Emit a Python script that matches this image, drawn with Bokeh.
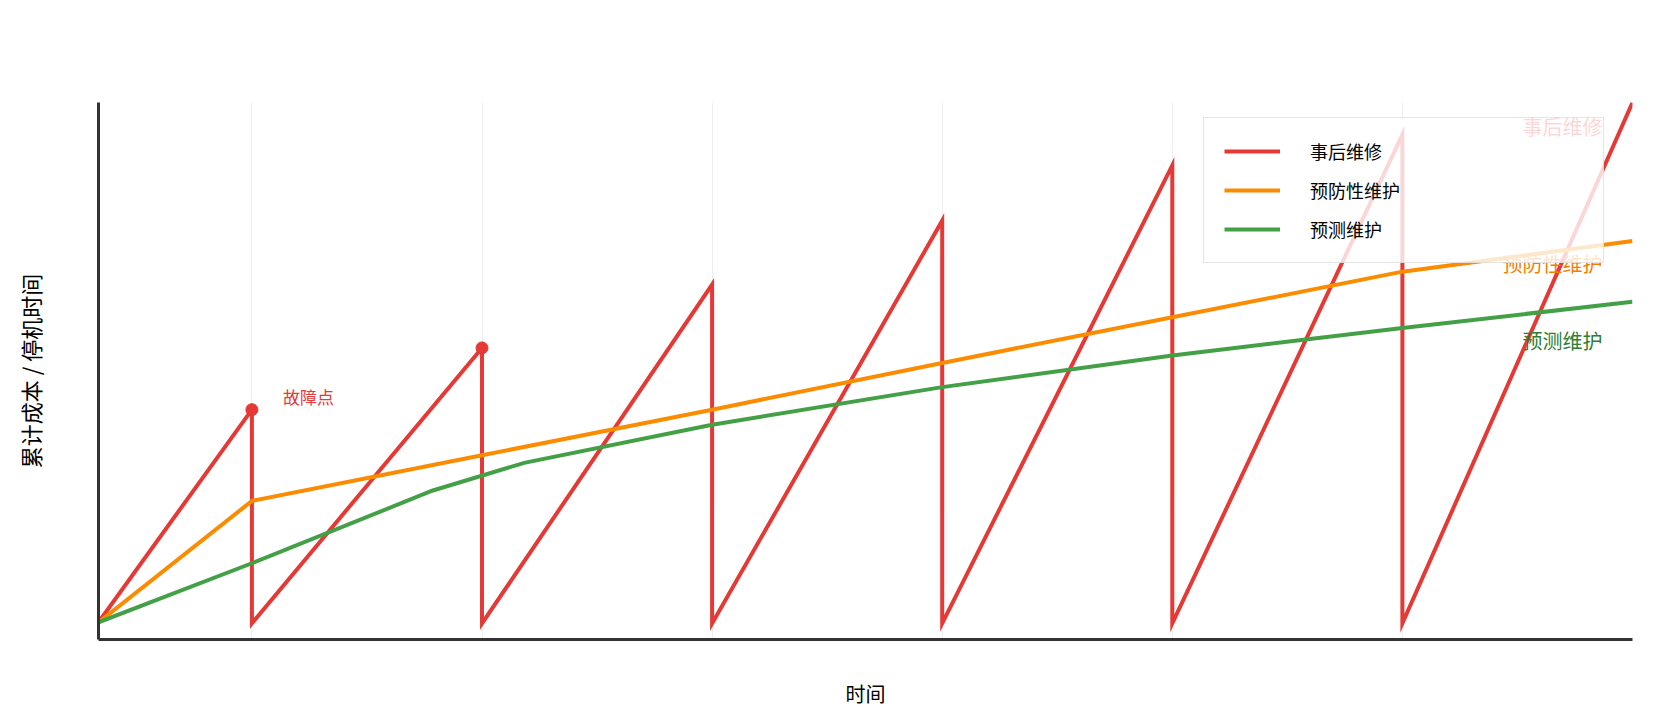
from bokeh.plotting import figure
from bokeh.models import Range1d, FixedTicker, Legend, LegendItem, ColumnDataSource
from bokeh.core.properties import value
from bokeh.embed import file_html
from bokeh.resources import INLINE

FONT = "Noto Sans CJK SC"

# ---- data ----
series_names = ["事后维修", "预防性维护", "预测维护"]
reactive_x = [0, 2, 2, 5, 5, 8, 8, 11, 11, 14, 14, 17, 17, 20]
reactive_y = [3.2, 42.8, 3.0, 54.3, 3.0, 66.1, 3.0, 78.0, 3.0, 88.3, 3.0, 94.0, 3.0, 100.0]
preventive_x = [0, 2, 5, 8, 11, 14, 17, 20]
preventive_y = [3.2, 25.8, 34.3, 42.8, 51.5, 60.0, 68.5, 74.2]
predictive_x = [0, 2, 4.35, 5.55, 8, 11, 14, 17, 20]
predictive_y = [3.2, 14.2, 27.7, 32.9, 40.0, 47.0, 52.9, 58.0, 62.9]
failure_x = [2, 5]
failure_y = [42.8, 54.3]
x_ticks = [2, 5, 8, 11, 14, 17, 20]
x_title = "时间"
y_title = "累计成本 / 停机时间"
failure_label = "故障点"

RED, ORANGE, GREEN = "#e53935", "#fb8c00", "#43a047"
LABEL_COLORS = ["#e53935", "#f57c00", "#2e7d32"]

W, H = 1670, 716
p = figure(width=W, height=H, output_backend="svg", toolbar_location=None,
           x_range=Range1d(0, 20), y_range=Range1d(0, 100),
           min_border_left=98, min_border_right=38, min_border_top=102, min_border_bottom=77)
p.outline_line_color = None
p.background_fill_color = "white"
p.border_fill_color = "white"

# axes (no tick labels; grid carries the ticks)
p.xaxis.ticker = FixedTicker(ticks=[])
p.xaxis.major_tick_line_color = None
p.xaxis.minor_tick_line_color = None
p.xaxis.axis_line_color = "#333333"
p.xaxis.axis_line_width = 3
p.xaxis.axis_label = x_title
p.xaxis.axis_label_text_font = FONT
p.xaxis.axis_label_text_font_size = "20px"
p.xaxis.axis_label_text_font_style = "normal"
p.xaxis.axis_label_text_color = "#000000"
p.xaxis.axis_label_standoff = 39

p.yaxis.ticker = FixedTicker(ticks=[])
p.yaxis.major_tick_line_color = None
p.yaxis.minor_tick_line_color = None
p.yaxis.axis_line_color = "#333333"
p.yaxis.axis_line_width = 3
p.yaxis.axis_label = y_title
p.yaxis.axis_label_text_font = FONT
p.yaxis.axis_label_text_font_size = "22px"
p.yaxis.axis_label_text_font_style = "normal"
p.yaxis.axis_label_text_color = "#000000"
p.yaxis.axis_label_standoff = 53

p.xgrid.ticker = FixedTicker(ticks=x_ticks)
p.xgrid.grid_line_color = "#eeeeee"
p.xgrid.grid_line_width = 1
p.ygrid.visible = False

# series
r_react = p.line(reactive_x, reactive_y, line_color=RED, line_width=4, line_join="miter")
r_prev = p.line(preventive_x, preventive_y, line_color=ORANGE, line_width=4, line_join="miter")
r_pred = p.line(predictive_x, predictive_y, line_color=GREEN, line_width=4, line_join="miter")
p.scatter(failure_x, failure_y, size=12, fill_color=RED, line_color=RED, marker="circle")

# failure annotation
p.text(x=failure_x[:1], y=failure_y[:1], text=[failure_label], x_offset=31, y_offset=-13,
       text_font=value(FONT), text_font_size="17px", text_color=RED,
       text_align="left", text_baseline="middle")

# end labels
end_src = ColumnDataSource(dict(
    x=[reactive_x[-1], preventive_x[-1], predictive_x[-1]],
    y=[reactive_y[-1], preventive_y[-1], predictive_y[-1]],
    text=series_names,
    color=LABEL_COLORS,
    dy=[24, 22, 39],
))
p.text(x="x", y="y", text="text", source=end_src, x_offset=-30, y_offset="dy",
       text_font=value(FONT), text_font_size="20px", text_color="color",
       text_align="right", text_baseline="middle")

legend = Legend(items=[LegendItem(label=series_names[0], renderers=[r_react]),
                       LegendItem(label=series_names[1], renderers=[r_prev]),
                       LegendItem(label=series_names[2], renderers=[r_pred])],
                location=(1105, 376), orientation="vertical",
                padding=20, spacing=13, margin=0,
                glyph_width=56, glyph_height=20, label_height=20,
                label_standoff=30, label_width=273,
                label_text_font=FONT, label_text_font_size="18px", label_text_color="#000000",
                background_fill_color="white", background_fill_alpha=0.8,
                border_line_color="#cccccc", border_line_width=1.5)
p.add_layout(legend)

open("out.html", "w").write(file_html(p, INLINE))
